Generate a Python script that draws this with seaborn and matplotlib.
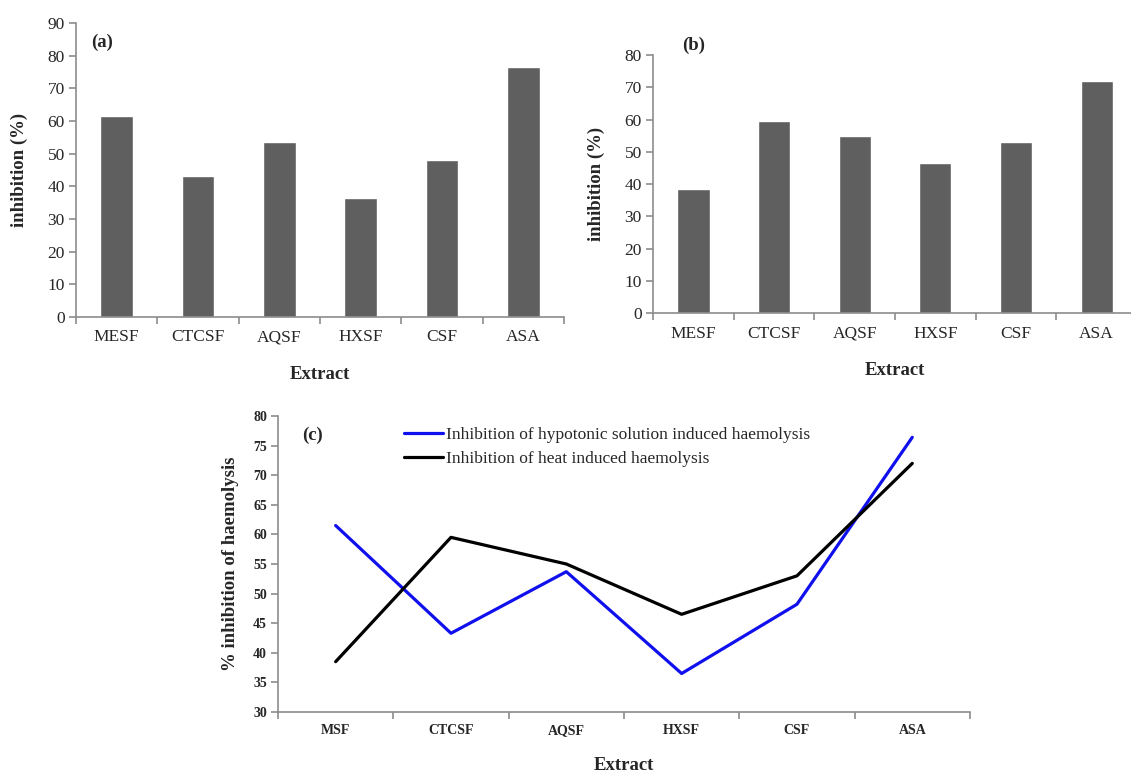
import pandas as pd
import matplotlib.pyplot as plt
import seaborn as sns

# values
extracts_ab = ['MESF', 'CTCSF', 'AQSF', 'HXSF', 'CSF', 'ASA']
extracts_c = ['MSF', 'CTCSF', 'AQSF', 'HXSF', 'CSF', 'ASA']
hypotonic = [61.5, 43.3, 53.7, 36.5, 48.2, 76.4]
heat = [38.5, 59.5, 55.0, 46.5, 53.0, 72.0]
label_hypo = 'Inhibition of hypotonic solution induced haemolysis'
label_heat = 'Inhibition of heat induced haemolysis'

sns.set_style('white')
plt.rcParams['font.family'] = ['Liberation Serif', 'DejaVu Serif']

spine_col = '#8c8c8c'
bar_col = '#5f5f5f'

fig = plt.figure(figsize=(11.31, 7.76), dpi=100)
ax_a = fig.add_axes([0.0672, 0.5915, 0.4315, 0.3789])
ax_b = fig.add_axes([0.5774, 0.5966, 0.4279, 0.3325])
ax_c = fig.add_axes([0.2458, 0.0825, 0.6118, 0.3814])


def style_axis(ax, n, fs, bold=False):
    for s in ['top', 'right']:
        ax.spines[s].set_visible(False)
    for s in ['left', 'bottom']:
        ax.spines[s].set_color(spine_col)
        ax.spines[s].set_linewidth(1.2)
    ax.set_xlim(-0.5, n - 0.5)
    ax.set_xticks([i - 0.5 for i in range(n + 1)], minor=True)
    ax.tick_params(axis='x', which='major', bottom=True, length=0, pad=9, labelsize=fs)
    ax.tick_params(axis='x', which='minor', bottom=True, length=5, color=spine_col,
                   width=1.2, direction='out')
    ax.tick_params(axis='y', left=True, length=5, color=spine_col, width=1.2,
                   direction='out', labelsize=fs, pad=3)
    if bold:
        for t in ax.get_xticklabels() + ax.get_yticklabels():
            t.set_fontweight('bold')


# panel (a)
df_a = pd.DataFrame({'Extract': extracts_ab, 'value': hypotonic})
sns.barplot(data=df_a, x='Extract', y='value', order=extracts_ab, color=bar_col,
            saturation=1, width=0.4, ax=ax_a)
ax_a.set_ylim(0, 90)
ax_a.set_yticks(range(0, 91, 10))
style_axis(ax_a, 6, 12.5)
ax_a.set_xlabel('Extract', fontsize=13.5, fontweight='bold', labelpad=15)
ax_a.set_ylabel('inhibition (%)', fontsize=13.5, fontweight='bold', labelpad=14)
ax_a.text(0.03, 0.92, '(a)', transform=ax_a.transAxes, fontsize=13.5, fontweight='bold')

# panel (b)
df_b = pd.DataFrame({'Extract': extracts_ab, 'value': heat})
sns.barplot(data=df_b, x='Extract', y='value', order=extracts_ab, color=bar_col,
            saturation=1, width=0.4, ax=ax_b)
ax_b.set_ylim(0, 80)
ax_b.set_yticks(range(0, 81, 10))
style_axis(ax_b, 6, 12.5)
ax_b.set_xlabel('Extract', fontsize=13.5, fontweight='bold', labelpad=15)
ax_b.set_ylabel('inhibition (%)', fontsize=13.5, fontweight='bold', labelpad=14)
ax_b.text(0.06, 1.02, '(b)', transform=ax_b.transAxes, fontsize=13.5, fontweight='bold')

# panel (c)
df_c = pd.DataFrame({
    'Extract': extracts_c * 2,
    'value': hypotonic + heat,
    'series': [label_hypo] * 6 + [label_heat] * 6,
})
sns.lineplot(data=df_c, x='Extract', y='value', hue='series',
             palette={label_hypo: '#1010ee', label_heat: 'black'},
             linewidth=2.3, sort=False, ax=ax_c)
ax_c.set_ylim(30, 80)
ax_c.set_yticks(range(30, 81, 5))
style_axis(ax_c, 6, 10, bold=True)
ax_c.set_xlabel('Extract', fontsize=13.5, fontweight='bold', labelpad=14)
ax_c.set_ylabel('% inhibition of haemolysis', fontsize=13.5, fontweight='bold', labelpad=10)
ax_c.text(0.035, 0.92, '(c)', transform=ax_c.transAxes, fontsize=13.5, fontweight='bold')
leg = ax_c.legend(loc='upper left', bbox_to_anchor=(0.16, 1.015), frameon=False,
                  fontsize=12.5, handlelength=2.2, handletextpad=0.2, labelspacing=0.45)
for ln in leg.get_lines():
    ln.set_linewidth(2.3)

fig.savefig('out.png', dpi=100)
